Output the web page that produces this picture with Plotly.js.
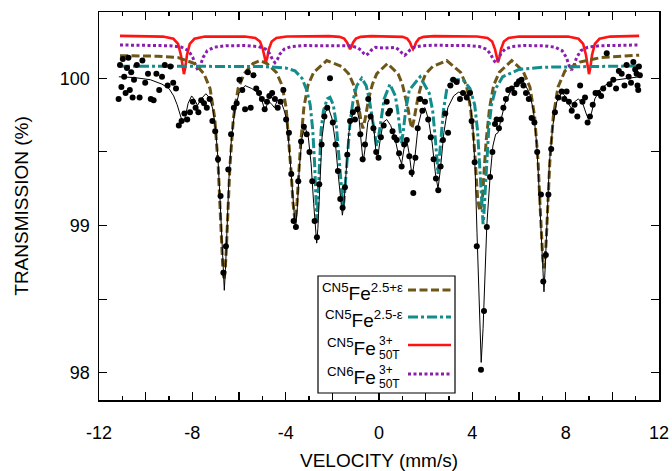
<!DOCTYPE html>
<html>
<head>
<meta charset="utf-8">
<script src="https://cdn.plot.ly/plotly-3.0.1.min.js"></script>
<style>html,body{margin:0;padding:0;background:#fff;}#chart{width:672px;height:471px;}</style>
</head>
<body>
<div id="chart"></div>
<script>
// ---- measured data (velocity mm/s, transmission %) ----
const dataVelocity = [
-11.16,-11.10,-11.04,-10.98,-10.92,-10.86,-10.80,-10.74,-10.68,-10.62,-10.56,-10.50,-10.38,-10.26,-10.14,-10.02,
-9.90,-9.78,-9.66,-9.54,-9.42,-9.30,-9.18,-9.06,-8.94,-8.82,-8.70,-8.58,-8.46,-8.34,-8.22,-8.10,
-7.98,-7.86,-7.74,-7.62,-7.50,-7.38,-7.26,-7.14,-7.02,-6.90,-6.79,-6.67,-6.56,-6.46,-6.34,-6.22,
-6.10,-5.98,-5.86,-5.74,-5.62,-5.50,-5.38,-5.26,-5.14,-5.02,-4.90,-4.80,-4.70,-4.58,-4.46,-4.34,
-4.22,-4.10,-3.98,-3.86,-3.76,-3.66,-3.56,-3.46,-3.34,-3.22,-3.10,-2.98,-2.86,-2.76,-2.66,-2.56,
-2.46,-2.34,-2.22,-2.10,-1.98,-1.86,-1.76,-1.66,-1.56,-1.46,-1.36,-1.24,-1.12,-1.03,-0.92,-0.80,
-0.70,-0.60,-0.46,-0.36,-0.24,-0.12,-0.02,0.08,0.20,0.33,0.40,0.47,0.58,0.66,0.76,0.86,
0.97,1.08,1.19,1.30,1.40,1.47,1.56,1.66,1.76,1.86,1.97,2.11,2.22,2.34,2.44,2.54,
2.64,2.74,2.84,2.96,3.06,3.18,3.33,3.47,3.60,3.76,3.90,3.97,4.10,4.19,4.37,4.50,
4.62,4.76,4.86,4.97,5.04,5.14,5.22,5.33,5.44,5.54,5.69,5.80,5.90,6.00,6.11,6.19,
6.30,6.42,6.54,6.66,6.78,6.94,7.04,7.15,7.26,7.38,7.54,7.69,7.83,7.94,8.04,8.14,
8.26,8.38,8.50,8.62,8.72,8.83,8.94,9.04,9.16,9.28,9.40,9.52,9.61,9.76,9.88,10.04,
10.16,10.28,10.40,10.52,10.61,10.70,10.80,10.90,10.98,11.04,11.08,11.11,11.14,11.18
];
const dataTransmission = [
99.86,100.09,99.94,100.13,100.01,99.90,100.07,100.14,99.92,100.04,99.87,99.99,100.09,99.87,100.12,99.97,
100.03,99.86,99.85,100.03,99.92,100.01,100.09,99.95,100.08,99.97,99.93,99.68,99.71,99.76,99.72,99.77,
99.84,99.80,99.77,99.85,99.83,99.80,99.86,99.71,99.64,99.45,99.20,98.68,98.86,99.38,99.62,99.80,
99.83,99.99,99.92,99.79,100.04,99.80,100.02,99.93,99.90,99.86,99.79,99.84,99.88,99.90,99.86,99.80,
99.84,99.92,99.72,99.63,99.35,99.03,98.99,99.30,99.57,99.67,99.62,99.50,99.30,99.03,98.92,99.28,
99.55,99.74,99.80,100.00,99.70,99.55,99.37,99.18,99.12,99.26,99.48,99.71,99.77,99.72,99.79,99.62,
99.45,99.55,99.86,99.74,99.66,99.50,99.46,99.60,99.68,99.84,99.76,99.78,99.64,99.60,99.58,99.49,
99.40,99.55,99.58,99.47,99.36,99.22,99.46,99.66,99.86,99.78,99.84,99.72,99.60,99.45,99.32,99.24,
99.40,99.58,99.76,99.63,99.95,99.99,99.975,99.86,99.90,99.87,99.90,99.71,99.43,98.86,98.02,98.42,
98.99,99.33,99.50,99.69,99.72,99.66,99.72,99.80,99.86,99.92,99.93,99.90,99.96,99.98,99.99,99.95,
99.90,99.86,99.73,99.70,99.50,99.21,98.62,98.80,99.21,99.52,99.77,99.87,99.91,99.86,99.91,99.84,
99.78,99.82,99.74,99.95,99.84,99.87,99.70,99.74,99.82,99.90,99.90,99.88,99.93,100.17,99.96,99.99,
99.93,100.05,100.03,99.95,100.09,100.01,99.97,100.11,100.06,100.03,99.95,99.92,100.08,100.02
];

// ---- total fit (thin black line) ----
const fitVelocity = [
-11.15,-10.5,-9.8,-9.3,-9.0,-8.8,-8.65,-8.52,-8.44,-8.38,-8.3,-8.18,-8.03,-7.9,-7.78,-7.62,-7.42,-7.28,-7.12,-7.0,
-6.9,-6.82,-6.74,-6.68,-6.63,-6.58,-6.51,-6.43,-6.32,-6.18,-6.0,-5.74,-5.45,-5.17,-5.0,-4.89,-4.80,-4.7,-4.58,-4.48,
-4.36,-4.22,-4.08,-3.96,-3.86,-3.76,-3.66,-3.58,-3.50,-3.42,-3.3,-3.17,-3.03,-2.91,-2.8,-2.72,-2.67,-2.62,-2.54,-2.44,
-2.3,-2.17,-2.02,-1.88,-1.75,-1.64,-1.57,-1.50,-1.40,-1.3,-1.22,-1.1,-0.96,-0.85,-0.76,-0.68,-0.6,-0.48,-0.33,-0.22,
-0.12,-0.05,0.05,0.18,0.33,0.5,0.7,0.85,0.97,1.07,1.19,1.3,1.42,1.53,1.68,1.85,1.97,2.12,2.28,2.42,
2.53,2.63,2.78,2.95,3.2,3.4,3.7,3.9,4.02,4.12,4.2,4.3,4.38,4.46,4.54,4.62,4.76,4.88,5.0,5.1,
5.2,5.4,5.7,6.0,6.2,6.45,6.62,6.76,6.86,6.94,7.01,7.07,7.13,7.2,7.3,7.45,7.62,7.83,8.03,8.15,
8.25,8.38,8.55,8.75,8.9,9.0,9.1,9.25,9.5,10.0,10.6,11.15
];
const fitTransmission = [
100.01,100.005,99.99,99.96,99.93,99.88,99.82,99.76,99.71,99.70,99.74,99.83,99.88,99.855,99.815,99.86,99.895,99.87,99.79,99.65,
99.45,99.2,98.9,98.68,98.56,98.70,99.0,99.32,99.6,99.78,99.9,99.95,99.93,99.9,99.84,99.78,99.82,99.84,99.82,99.80,
99.85,99.85,99.79,99.72,99.55,99.32,99.08,98.97,99.12,99.38,99.6,99.67,99.6,99.42,99.15,98.95,98.88,98.98,99.3,99.6,
99.77,99.8,99.73,99.58,99.35,99.15,99.07,99.15,99.42,99.62,99.7,99.77,99.8,99.72,99.56,99.43,99.52,99.7,99.75,99.66,
99.48,99.47,99.58,99.7,99.72,99.68,99.58,99.47,99.42,99.52,99.58,99.48,99.33,99.45,99.68,99.79,99.8,99.72,99.56,99.35,
99.25,99.38,99.63,99.8,99.88,99.905,99.9,99.84,99.68,99.38,98.95,98.42,98.07,98.3,98.7,99.0,99.33,99.54,99.62,99.63,
99.7,99.83,99.93,99.97,99.975,99.9,99.78,99.55,99.25,98.98,98.72,98.55,98.74,99.08,99.42,99.68,99.84,99.905,99.87,99.82,
99.795,99.84,99.86,99.82,99.75,99.72,99.76,99.86,99.93,99.985,100.0,100.01
];

// ---- component CN5 Fe 2.5+eps (brown dashed) ----
const cn5PlusVelocity = [
-11.1,-9.5,-8.6,-7.9,-7.5,-7.24,-7.04,-6.89,-6.82,-6.74,-6.69,-6.64,-6.59,-6.54,-6.46,-6.39,-6.24,-6.04,-5.78,-5.4,
-5.1,-4.8,-4.4,-4.15,-3.98,-3.84,-3.76,-3.69,-3.64,-3.60,-3.56,-3.51,-3.44,-3.36,-3.22,-3.05,-2.8,-2.24,-1.6,-1.3,
-1.1,-0.95,-0.85,-0.77,-0.69,-0.61,-0.53,-0.43,-0.28,-0.1,0.36,0.82,1.0,1.15,1.25,1.33,1.41,1.49,1.57,1.67,
1.82,2.0,2.3,2.9,3.5,3.75,3.92,4.07,4.15,4.22,4.28,4.33,4.38,4.44,4.51,4.59,4.74,4.91,5.15,5.69,
6.17,6.47,6.67,6.82,6.89,6.97,7.02,7.07,7.12,7.17,7.25,7.32,7.47,7.67,7.97,8.6,9.5,11.15
];
const cn5PlusTransmission = [
100.153,100.15,100.14,100.10,100.03,99.93,99.73,99.40,99.15,98.85,98.70,98.63,98.70,98.85,99.15,99.40,99.73,99.93,100.03,100.10,
100.12,100.10,100.04,99.95,99.80,99.55,99.35,99.16,99.07,99.03,99.07,99.16,99.35,99.55,99.80,99.95,100.04,100.12,100.08,100.03,
99.96,99.87,99.79,99.71,99.66,99.71,99.79,99.87,99.96,100.03,100.10,100.03,99.96,99.87,99.79,99.71,99.66,99.71,99.79,99.87,
99.96,100.03,100.08,100.12,100.04,99.95,99.80,99.57,99.38,99.20,99.13,99.10,99.13,99.20,99.38,99.57,99.80,99.95,100.04,100.12,
100.05,99.94,99.74,99.43,99.18,98.91,98.77,98.71,98.77,98.91,99.18,99.43,99.74,99.94,100.05,100.11,100.14,100.157
];

// ---- component CN5 Fe 2.5-eps (teal dash-dot) ----
const cn5MinusVelocity = [
-11.1,-5.0,-4.0,-3.6,-3.3,-3.1,-2.95,-2.84,-2.76,-2.71,-2.67,-2.66,-2.65,-2.61,-2.56,-2.48,-2.38,-2.22,-2.1,-1.96,
-1.84,-1.73,-1.64,-1.58,-1.54,-1.50,-1.44,-1.35,-1.24,-1.1,-0.95,-0.74,-0.55,-0.42,-0.3,-0.2,-0.1,0.0,0.1,0.22,
0.47,0.7,0.8,0.9,0.97,1.04,1.14,1.3,1.76,2.15,2.3,2.42,2.48,2.53,2.58,2.64,2.76,2.9,3.1,3.6,
3.9,4.1,4.22,4.31,4.38,4.43,4.46,4.49,4.54,4.61,4.7,4.82,5.0,5.3,6.0,7.0,11.15
];
const cn5MinusTransmission = [
100.082,100.08,100.07,100.05,100.0,99.92,99.82,99.65,99.42,99.2,99.04,99.02,99.04,99.2,99.42,99.65,99.78,99.86,99.87,99.82,
99.7,99.5,99.3,99.17,99.13,99.17,99.3,99.5,99.7,99.86,99.95,100.0,99.95,99.86,99.74,99.62,99.54,99.62,99.74,99.86,
99.96,99.88,99.78,99.64,99.56,99.64,99.78,99.92,100.01,99.9,99.78,99.58,99.45,99.35,99.45,99.58,99.78,99.92,99.99,99.99,
99.93,99.82,99.65,99.42,99.2,99.06,99.01,99.06,99.2,99.42,99.65,99.82,99.93,100.01,100.06,100.075,100.084
];

// ---- component CN5 Fe3+ 50T (red solid) ----
const cn5Fe3Velocity = [
-11.1,-9.26,-8.81,-8.61,-8.49,-8.42,-8.36,-8.30,-8.23,-8.11,-7.91,-7.46,
-5.75,-5.30,-5.10,-4.98,-4.91,-4.85,-4.79,-4.72,-4.60,-4.40,-3.95,
-2.14,-1.69,-1.49,-1.37,-1.30,-1.24,-1.18,-1.11,-0.99,-0.79,-0.34,
0.56,1.01,1.21,1.33,1.40,1.46,1.52,1.59,1.71,1.91,2.36,
4.20,4.65,4.85,4.97,5.04,5.10,5.16,5.23,5.35,5.55,6.00,
8.10,8.55,8.75,8.87,8.94,9.00,9.06,9.13,9.25,9.45,9.90,11.15
];
const cn5Fe3Transmission = [
100.288,100.283,100.268,100.233,100.158,100.075,100.028,100.075,100.158,100.233,100.268,100.283,
100.284,100.274,100.250,100.198,100.140,100.108,100.140,100.198,100.250,100.274,100.284,
100.286,100.281,100.269,100.243,100.214,100.198,100.214,100.243,100.269,100.281,100.286,
100.286,100.281,100.269,100.243,100.214,100.198,100.214,100.243,100.269,100.281,100.286,
100.284,100.274,100.250,100.198,100.140,100.108,100.140,100.198,100.250,100.274,100.284,
100.283,100.268,100.233,100.158,100.075,100.028,100.075,100.158,100.233,100.268,100.283,100.288
];

// ---- component CN6 Fe3+ 50T (purple dotted) ----
const cn6Fe3Velocity = [
-11.1,-8.96,-8.46,-8.16,-7.98,-7.86,-7.76,-7.66,-7.54,-7.36,-7.06,-6.56,
-5.66,-5.16,-4.86,-4.68,-4.56,-4.46,-4.36,-4.24,-4.06,-3.76,-3.26,
-1.75,-1.25,-0.95,-0.77,-0.65,-0.55,-0.45,-0.33,-0.15,0.275,
0.70,0.88,1.00,1.10,1.20,1.32,1.50,1.80,2.30,
3.80,4.30,4.60,4.78,4.90,5.00,5.10,5.22,5.40,5.70,6.20,
7.05,7.55,7.85,8.03,8.15,8.25,8.35,8.47,8.65,8.95,9.45,11.15
];
const cn6Fe3Transmission = [
100.226,100.221,100.211,100.187,100.141,100.085,100.056,100.085,100.141,100.187,100.211,100.221,
100.222,100.215,100.198,100.166,100.126,100.106,100.126,100.166,100.198,100.215,100.222,
100.224,100.220,100.210,100.191,100.168,100.156,100.168,100.191,100.210,100.205,
100.210,100.191,100.168,100.156,100.168,100.191,100.210,100.220,100.224,
100.222,100.215,100.198,100.166,100.126,100.106,100.126,100.166,100.198,100.215,100.222,
100.221,100.211,100.187,100.141,100.085,100.056,100.085,100.141,100.187,100.211,100.221,100.226
];

// ---- axis ticks ----
const xTickVals = [-12,-10,-8,-6,-4,-2,0,2,4,6,8,10,12];
const xTickText = ['-12','','-8','','-4','','0','','4','','8','','12'];
const yTickVals = [98,98.5,99,99.5,100];
const yTickText = ['98','','99','','100'];

// legend labels
const legendLabels = [
  {pre:'CN5', post:'2.5+ε', sub:null},
  {pre:'CN5', post:'2.5-ε', sub:null},
  {pre:'CN5', post:'3+', sub:'50T'},
  {pre:'CN6', post:'3+', sub:'50T'}
];

// ---- styling ----
const BROWN = '#6e5618', TEAL = '#138c8c', RED = '#ff1414', PURPLE = '#8a1cb0';
const FONT = 'Liberation Sans, Arial, Helvetica, sans-serif';

const traces = [
  {x: cn5Fe3Velocity, y: cn5Fe3Transmission, mode:'lines', line:{color:RED, width:2.6}},
  {x: cn6Fe3Velocity, y: cn6Fe3Transmission, mode:'lines', line:{color:PURPLE, width:3, dash:'3px,2.5px'}},
  {x: cn5PlusVelocity, y: cn5PlusTransmission, mode:'lines', line:{color:BROWN, width:3, dash:'8px,3.5px'}},
  {x: cn5MinusVelocity, y: cn5MinusTransmission, mode:'lines', line:{color:TEAL, width:3, dash:'10px,3px,3px,3px'}},
  {x: fitVelocity, y: fitTransmission, mode:'lines', line:{color:'#000', width:1}},
  {x: dataVelocity, y: dataTransmission, mode:'markers', marker:{color:'#000', size:6}}
];

// pixel -> paper helpers for the boxed legend (plot area 99..659 x 12..400)
const PL = 99, PR = 659, PT = 12, PB = 400;
const px = v => (v - PL) / (PR - PL);
const py = v => (PB - v) / (PB - PT);

const rowY = [290, 317, 345, 374];
const lineStyles = [
  {color:BROWN, width:3, dash:'8px,3.5px'},
  {color:TEAL, width:3, dash:'10px,3px,3px,3px'},
  {color:RED, width:2.6},
  {color:PURPLE, width:3, dash:'3px,2.5px'}
];
const shapes = [
  {type:'rect', xref:'paper', yref:'paper', x0:px(318), x1:px(455), y0:py(393), y1:py(276),
   line:{color:'#000', width:1.2}, fillcolor:'#fff', layer:'above'}
];
const annotations = [];
legendLabels.forEach((lab, i) => {
  const y = rowY[i];
  shapes.push({type:'line', xref:'paper', yref:'paper', x0:px(408), x1:px(451), y0:py(y), y1:py(y), line:lineStyles[i], layer:'above'});
  if (!lab.sub) {
    annotations.push({xref:'paper', yref:'paper', x:px(405), y:py(y+2), xanchor:'right', yanchor:'middle',
      text:'<sup>'+lab.pre+'</sup>Fe<sup>'+lab.post+'</sup>', showarrow:false, font:{family:FONT, size:19, color:'#000'}});
  } else {
    annotations.push({xref:'paper', yref:'paper', x:px(378), y:py(y+2), xanchor:'right', yanchor:'middle',
      text:'<sup>'+lab.pre+'</sup>Fe', showarrow:false, font:{family:FONT, size:19, color:'#000'}});
    annotations.push({xref:'paper', yref:'paper', x:px(377), y:py(y-5), xanchor:'left', yanchor:'middle',
      text:lab.post, showarrow:false, font:{family:FONT, size:12, color:'#000'}, height:13});
    annotations.push({xref:'paper', yref:'paper', x:px(377), y:py(y+9), xanchor:'left', yanchor:'middle',
      text:lab.sub, showarrow:false, font:{family:FONT, size:12, color:'#000'}, height:13});
  }
});

const layout = {
  width: 672, height: 471,
  margin: {l: PL, r: 672 - PR, t: PT, b: 471 - PB, pad: 0},
  paper_bgcolor: '#fff', plot_bgcolor: '#fff',
  showlegend: false,
  hovermode: false,
  font: {family: FONT, size: 18, color: '#000'},
  xaxis: {
    range: [-12, 12], tickmode: 'array', tickvals: xTickVals, ticktext: xTickText,
    ticks: 'inside', ticklen: 8, tickwidth: 1.2, tickcolor: '#000',
    showline: true, linecolor: '#000', linewidth: 1.5, mirror: 'allticks',
    showgrid: false, zeroline: false, ticklabelstandoff: 16,
    minor: {tick0: 0, dtick: 1, ticks: 'inside', ticklen: 4, tickwidth: 1.2, tickcolor: '#000', showgrid: false},
    tickfont: {family: FONT, size: 18, color: '#000'},
    title: {text: 'VELOCITY (mm/s)', font: {family: FONT, size: 19, color: '#000'}, standoff: 12}
  },
  yaxis: {
    range: [97.815, 100.45], tickmode: 'array', tickvals: yTickVals, ticktext: yTickText,
    ticks: 'inside', ticklen: 8, tickwidth: 1.2, tickcolor: '#000',
    showline: true, linecolor: '#000', linewidth: 1.5, mirror: 'allticks',
    showgrid: false, zeroline: false, ticklabelstandoff: 4,
    tickfont: {family: FONT, size: 18, color: '#000'},
    title: {text: 'TRANSMISSION (%)', font: {family: FONT, size: 19, color: '#000'}, standoff: 26}
  },
  shapes: shapes,
  annotations: annotations
};

Plotly.newPlot('chart', traces, layout, {displayModeBar: false, staticPlot: true});
</script>
</body>
</html>
